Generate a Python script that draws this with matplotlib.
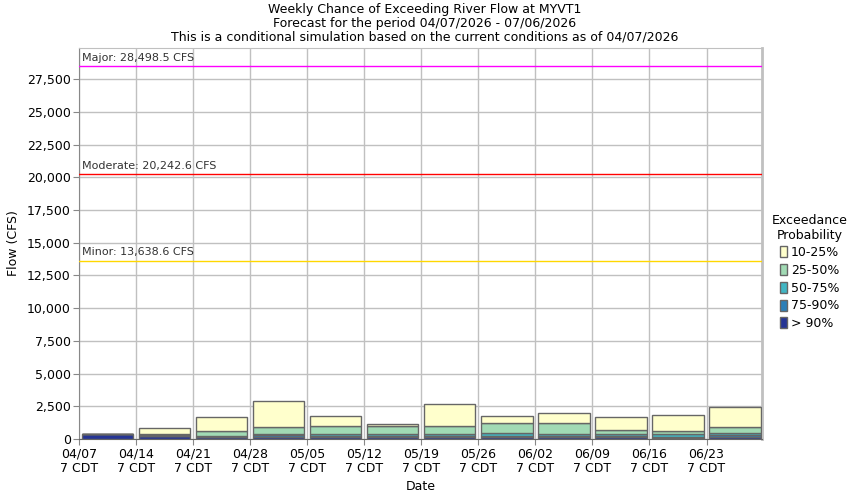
import matplotlib
matplotlib.use("Agg")
import matplotlib.pyplot as plt
from matplotlib.patches import Patch

plt.rcParams['font.family'] = ['DejaVu Sans']

weeks = ["04/07", "04/14", "04/21", "04/28", "05/05", "05/12", "05/19",
         "05/26", "06/02", "06/09", "06/16", "06/23"]
# exceedance values (CFS)
p90 = [370, 200, 120, 160, 150, 130, 150, 130, 150, 130, 80, 150]
p75 = [370, 250, 170, 280, 250, 200, 250, 200, 250, 250, 150, 280]
p50 = [370, 310, 220, 390, 360, 410, 360, 460, 360, 380, 360, 430]
p25 = [370, 380, 590, 890, 970, 970, 970, 1200, 1200, 660, 590, 890]
p10 = [370, 815, 1660, 2880, 1730, 1170, 2650, 1730, 1960, 1660, 1830, 2450]

thresholds = [("Major", 28498.5, "#ff00ff"),
              ("Moderate", 20242.6, "#ff0000"),
              ("Minor", 13638.6, "#ffd700")]

labels = ["> 90%", "75-90%", "50-75%", "25-50%", "10-25%"]
colors = ["#253494", "#2c7fb8", "#41b6c4", "#a1dab4", "#ffffcc"]

fig = plt.figure(figsize=(8.5, 5), dpi=100)
ax = fig.add_axes([0.0929, 0.122, 0.8035, 0.783])

x = [7 * i + 3.5 for i in range(len(weeks))]
levels = [p90, p75, p50, p25, p10]
bottoms = [0] * len(weeks)
for lvl, c in zip(levels, colors):
    h = [t - b for t, b in zip(lvl, bottoms)]
    ax.bar(x, h, bottom=bottoms, width=6.3, color=c, edgecolor="#666666",
           linewidth=1.0, zorder=3)
    bottoms = list(lvl)

for name, val, c in thresholds:
    ax.axhline(val, color=c, linewidth=1.0, zorder=4)
    ax.text(0.4, val + 250, f"{name}: {val:,.1f} CFS", fontsize=8,
            color="#333333", ha="left", va="bottom", zorder=5)

ax.set_xlim(0, 83.8)
ax.set_ylim(0, 28498.5 * 1.05)
ax.set_xticks([7 * i for i in range(len(weeks))])
ax.set_xticklabels([f"{w}\n7 CDT" for w in weeks], fontsize=9)
yt = list(range(0, 28000, 2500))
ax.set_yticks(yt)
ax.set_yticklabels([f"{v:,}" for v in yt], fontsize=9)
ax.grid(True, color="#c0c0c0", linewidth=1.0, zorder=0)
ax.set_axisbelow(True)
for s in ["top", "right"]:
    ax.spines[s].set_color("#c0c0c0")
ax.spines["right"].set_linewidth(2)
ax.spines["left"].set_color("#888888")
ax.spines["bottom"].set_color("#666666")
ax.tick_params(axis="both", length=4, color="#888888", pad=2)

ax.set_xlabel("Date", fontsize=9, labelpad=3)
ax.set_ylabel("Flow (CFS)", fontsize=9, labelpad=5)

fig.text(0.5, 0.995, "Weekly Chance of Exceeding River Flow at MYVT1\n"
         "Forecast for the period 04/07/2026 - 07/06/2026\n"
         "This is a conditional simulation based on the current conditions as of 04/07/2026",
         ha="center", va="top", fontsize=9, linespacing=1.12)

handles = [Patch(facecolor=c, edgecolor="#666666", label=l)
           for c, l in zip(colors[::-1], labels[::-1])]
leg = fig.legend(handles=handles, title="Exceedance\nProbability",
                 loc="upper left", bbox_to_anchor=(0.908, 0.572),
                 frameon=False, fontsize=9, title_fontsize=9,
                 handlelength=0.6, handleheight=1.0, handletextpad=0.3,
                 labelspacing=0.38, borderaxespad=0, borderpad=0)
leg.get_title().set_multialignment("center")
leg._legend_box.sep = 3

fig.savefig("out.png", dpi=100)
